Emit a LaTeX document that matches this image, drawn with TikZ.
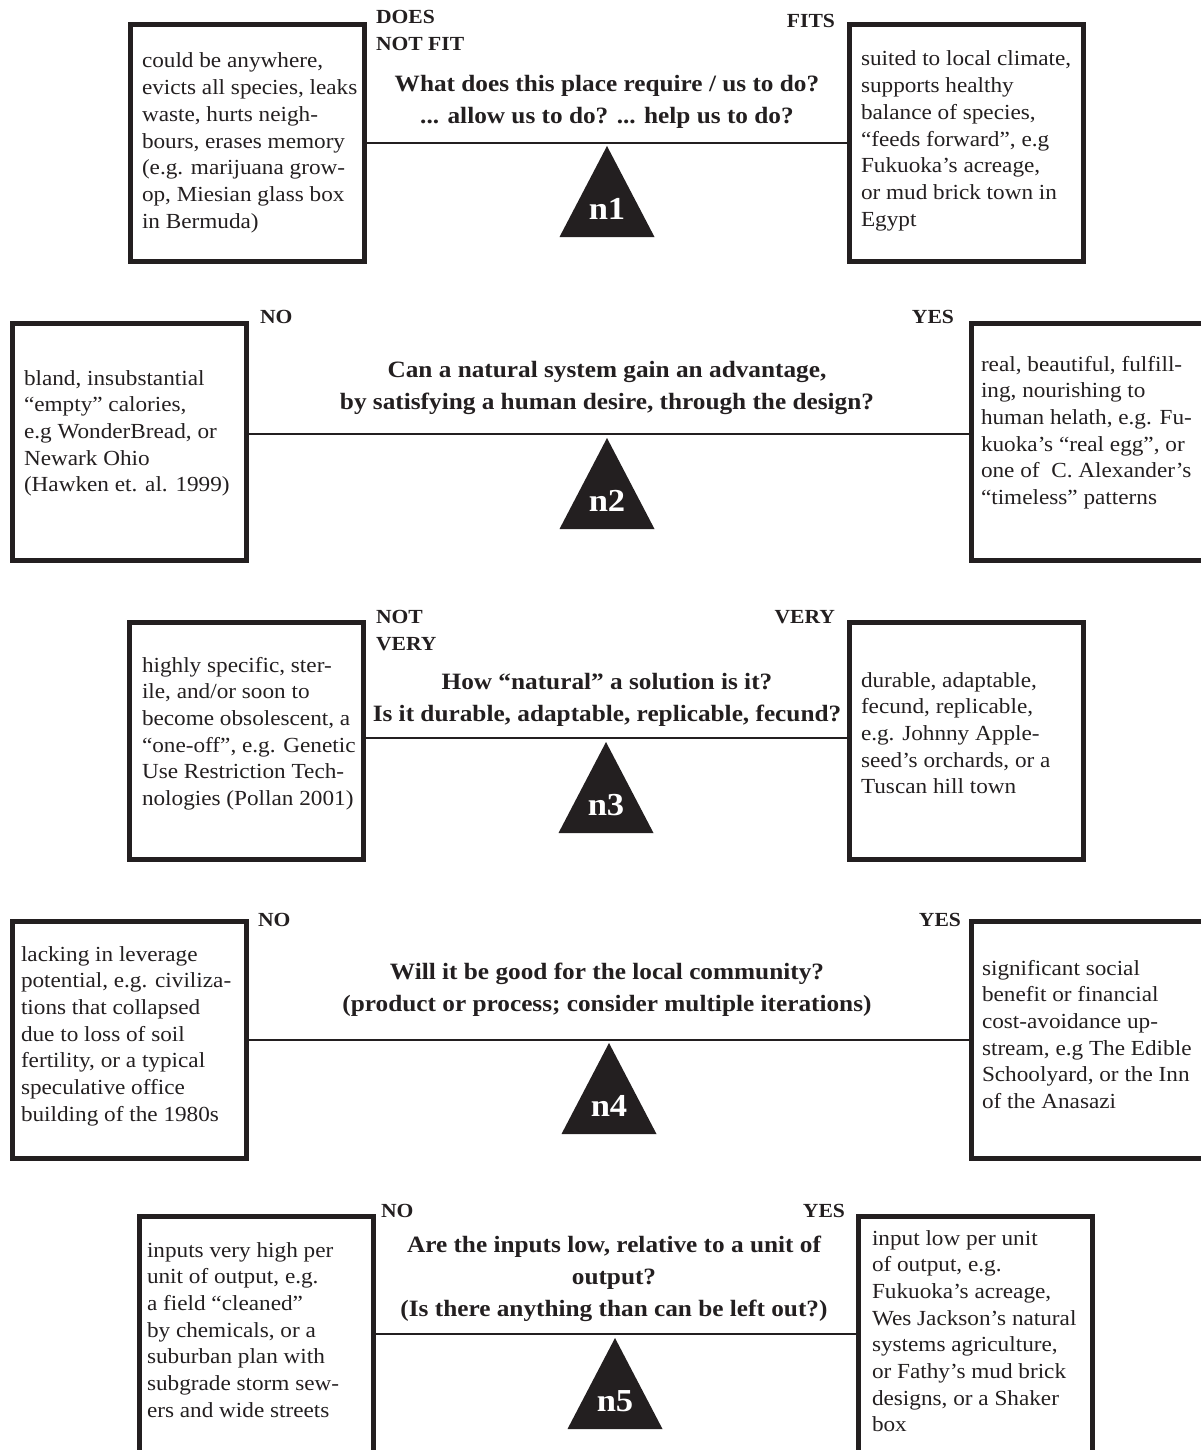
\documentclass[tikz,border=0pt]{standalone}
\usepackage{fontspec}
\setmainfont{Liberation Serif}[FakeStretch=1.08]
\definecolor{ink}{HTML}{231F20}
\newcommand\bodybox[1]{\parbox[t]{280pt}{\fontsize{21.5pt}{26.7pt}\selectfont\raggedright #1}}
\newcommand\questbox[1]{\parbox[t]{640pt}{\fontsize{23.4pt}{32pt}\selectfont\bfseries\centering #1}}
\newcommand\lblbox[1]{\parbox[t]{140pt}{\fontsize{20pt}{27pt}\selectfont\bfseries\raggedright #1}}
\begin{document}
\begin{tikzpicture}[x=1pt,y=-1pt,
  every node/.style={inner sep=0pt, outer sep=0pt, text=ink},
  bigbox/.style={draw=ink, line width=5pt, minimum width=234pt, minimum height=237pt},
  conn/.style={draw=ink, line width=2.6pt},
  tri/.style={fill=ink},
  nlbl/.style={text=white, font=\fontsize{32pt}{36pt}\selectfont\bfseries, anchor=base},
  txt/.style={anchor=base west},
  quest/.style={anchor=base},
  lblL/.style={anchor=base west},
  lblR/.style={anchor=base east, font=\fontsize{20pt}{27pt}\selectfont\bfseries}]
\useasboundingbox (0,0) rectangle (1201,1450);

% ---------- Row 1 ----------
\node[bigbox] (L1) at (247,143) {};
\node[bigbox] (R1) at (966.5,143) {};
\coordinate (h1) at (607,143);
\draw[conn] (L1.east |- h1) -- (R1.west |- h1);
\fill[tri] (559.5,237) -- (654.5,237) -- (607,146) -- cycle;
\node[nlbl] (n1) at (607,219) {n1};
\node[lblL] (l1a) at (376,24) {\lblbox{DOES\\NOT FIT}};
\node[lblR] (l1b) at (835,28) {FITS};
\node[quest] (q1) at (607,92) {\questbox{What does this place require / us to do?\\... allow us to do? ... help us to do?}};
\node[txt] (t1l) at (142,68) {\bodybox{could be anywhere,\\evicts all species, leaks\\waste, hurts neigh-\\bours, erases memory\\(e.g. marijuana grow-\\op, Miesian glass box\\in Bermuda)}};
\node[txt] (t1r) at (861,66) {\bodybox{suited to local climate,\\supports healthy\\balance of species,\\“feeds forward”, e.g\\Fukuoka’s acreage,\\or mud brick town in\\Egypt}};

% ---------- Row 2 ----------
\node[bigbox] (L2) at (129.5,442) {};
\node[bigbox] (R2) at (1088.5,442) {};
\coordinate (h2) at (607,434);
\draw[conn] (L2.east |- h2) -- (R2.west |- h2);
\fill[tri] (559.5,529) -- (654.5,529) -- (607,438) -- cycle;
\node[nlbl] (n2) at (607,511) {n2};
\node[lblL] (l2a) at (260,323) {\lblbox{NO}};
\node[lblR] (l2b) at (954,323) {YES};
\node[quest] (q2) at (607,377) {\questbox{Can a natural system gain an advantage,\\by satisfying a human desire, through the design?}};
\node[txt] (t2l) at (24,385) {\bodybox{bland, insubstantial\\“empty” calories,\\e.g WonderBread, or\\Newark Ohio\\(Hawken et. al. 1999)}};
\node[txt] (t2r) at (981,371) {\bodybox{real, beautiful, fulfill-\\ing, nourishing to\\human helath, e.g. Fu-\\kuoka’s “real egg”, or\\one of~ C. Alexander’s\\“timeless” patterns}};

% ---------- Row 3 ----------
\node[bigbox] (L3) at (246,741) {};
\node[bigbox] (R3) at (966,741) {};
\coordinate (h3) at (607,738);
\draw[conn] (L3.east |- h3) -- (R3.west |- h3);
\fill[tri] (558.5,833) -- (653.5,833) -- (606,742) -- cycle;
\node[nlbl] (n3) at (606,815) {n3};
\node[lblL] (l3a) at (376,623) {\lblbox{NOT\\VERY}};
\node[lblR] (l3b) at (835,623) {VERY};
\node[quest] (q3) at (607,689) {\questbox{How “natural” a solution is it?\\Is it durable, adaptable, replicable, fecund?}};
\node[txt] (t3l) at (142,672) {\bodybox{highly specific, ster-\\ile, and/or soon to\\become obsolescent, a\\“one-off”, e.g. Genetic\\Use Restriction Tech-\\nologies (Pollan 2001)}};
\node[txt] (t3r) at (861,687) {\bodybox{durable, adaptable,\\fecund, replicable,\\e.g. Johnny Apple-\\seed’s orchards, or a\\Tuscan hill town}};

% ---------- Row 4 ----------
\node[bigbox] (L4) at (129.5,1040) {};
\node[bigbox] (R4) at (1088.5,1040) {};
\coordinate (h4) at (607,1040);
\draw[conn] (L4.east |- h4) -- (R4.west |- h4);
\fill[tri] (561.5,1134) -- (656.5,1134) -- (609,1043) -- cycle;
\node[nlbl] (n4) at (609,1116) {n4};
\node[lblL] (l4a) at (258,926) {\lblbox{NO}};
\node[lblR] (l4b) at (961,926) {YES};
\node[quest] (q4) at (607,979) {\questbox{Will it be good for the local community?\\(product or process; consider multiple iterations)}};
\node[txt] (t4l) at (21,961) {\bodybox{lacking in leverage\\potential, e.g. civiliza-\\tions that collapsed\\due to loss of soil\\fertility, or a typical\\speculative office\\building of the 1980s}};
\node[txt] (t4r) at (982,975) {\bodybox{significant social\\benefit or financial\\cost-avoidance up-\\stream, e.g The Edible\\Schoolyard, or the Inn\\of the Anasazi}};

% ---------- Row 5 ----------
\node[bigbox] (L5) at (256,1335) {};
\node[bigbox] (R5) at (975,1335) {};
\coordinate (h5) at (614,1334);
\draw[conn] (L5.east |- h5) -- (R5.west |- h5);
\fill[tri] (567.5,1429) -- (662.5,1429) -- (615,1338) -- cycle;
\node[nlbl] (n5) at (615,1411) {n5};
\node[lblL] (l5a) at (381,1217) {\lblbox{NO}};
\node[lblR] (l5b) at (845,1217) {YES};
\node[quest] (q5) at (614,1252) {\questbox{Are the inputs low, relative to a unit of\\output?\\(Is there anything than can be left out?)}};
\node[txt] (t5l) at (147,1257) {\bodybox{inputs very high per\\unit of output, e.g.\\a field “cleaned”\\by chemicals, or a\\suburban plan with\\subgrade storm sew-\\ers and wide streets}};
\node[txt] (t5r) at (872,1245) {\bodybox{input low per unit\\of output, e.g.\\Fukuoka’s acreage,\\Wes Jackson’s natural\\systems agriculture,\\or Fathy’s mud brick\\designs, or a Shaker\\box}};
\end{tikzpicture}
\end{document}
